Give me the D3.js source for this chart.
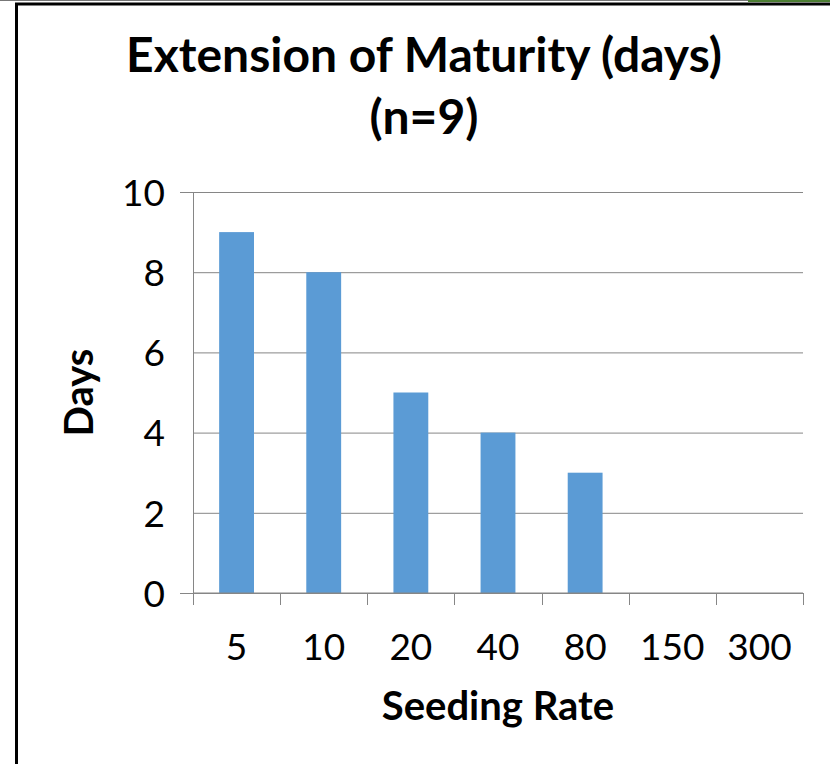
<!DOCTYPE html>
<meta charset="utf-8">
<script src="https://d3js.org/d3.v7.min.js"></script>
<style>
  body { margin: 0; background: #fff; }
  text { font-family: Lato, "Open Sans", sans-serif; fill: #000; }
</style>
<div id="chart"></div>
<script>

// chart data
const rates = ["5", "10", "20", "40", "80", "150", "300"]
const days = [9, 8, 5, 4, 3, 0, 0]
const yTicks = [0, 2, 4, 6, 8, 10]

const W = 830, H = 764
const margin = {top: 192, right: 27, bottom: 171, left: 193},
    width = W - margin.left - margin.right,
    height = H - margin.top - margin.bottom

const svg = d3.select("#chart").append("svg")
    .attr("width", W)
    .attr("height", H)

// frame bits from the screenshot edge
svg.append("line").attr("x1", 0).attr("x2", 748).attr("y1", 0.5).attr("y2", 0.5)
  .attr("stroke", "#777").attr("stroke-width", 1)
svg.append("rect").attr("x", 748).attr("y", 0).attr("width", 82).attr("height", 2)
  .attr("fill", "#4b7d32")
svg.append("path").attr("d", "M16.5," + H + "V4H" + W)
  .attr("fill", "none").attr("stroke", "#000").attr("stroke-width", 3)

// title
const title = svg.append("text")
    .attr("text-anchor", "middle")
    .style("font-weight", "bold")
    .style("font-size", "48px")
title.append("tspan").attr("x", 424).attr("y", 72).text("Extension of Maturity (days)")
title.append("tspan").attr("x", 424).attr("y", 134).text("(n=9)")

const g = svg.append("g")
    .attr("transform", "translate(" + margin.left + "," + margin.top + ")")

const x = d3.scaleBand()
    .domain(rates)
    .range([0, width])
    .paddingInner(0.6)
    .paddingOuter(0.3)

const y = d3.scaleLinear()
    .domain([0, 10])
    .range([height, 0])

// gridlines + y axis
const yAxis = g.append("g")
    .call(d3.axisLeft(y).tickValues(yTicks).tickSize(13).tickPadding(15))
yAxis.select(".domain").attr("stroke", "#868686")
yAxis.selectAll(".tick line")
    .attr("x2", width)
    .attr("stroke", "#868686")
yAxis.selectAll(".tick text")
    .style("font-size", "37px")
    .attr("dy", "0.36em")

// bars
g.selectAll(".bar")
  .data(rates.map((r, i) => ({rate: r, value: days[i]})))
  .join("rect")
    .attr("class", "bar")
    .attr("x", d => x(d.rate))
    .attr("width", x.bandwidth())
    .attr("y", d => y(d.value))
    .attr("height", d => y(0) - y(d.value))
    .attr("fill", "#5b9bd5")

// x axis: ticks at category boundaries, labels at centres
const xg = g.append("g").attr("transform", "translate(0," + height + ")")
xg.append("line").attr("x1", 0).attr("x2", width)
  .attr("stroke", "#868686")
const step = x.step()
xg.selectAll(".xtick")
  .data(d3.range(rates.length + 1))
  .join("line")
    .attr("class", "xtick")
    .attr("x1", i => Math.round(i * step) + 0.5)
    .attr("x2", i => Math.round(i * step) + 0.5)
    .attr("y1", 0)
    .attr("y2", 12)
    .attr("stroke", "#868686")
xg.selectAll(".xlabel")
  .data(rates)
  .join("text")
    .attr("class", "xlabel")
    .attr("x", d => x(d) + x.bandwidth() / 2)
    .attr("y", 67)
    .attr("text-anchor", "middle")
    .style("font-size", "37px")
    .text(d => d)

// axis titles
svg.append("text")
    .attr("x", margin.left + width / 2)
    .attr("y", 720)
    .attr("text-anchor", "middle")
    .style("font-weight", "bold")
    .style("font-size", "40px")
    .text("Seeding Rate")

svg.append("text")
    .attr("transform", "translate(93," + (margin.top + height / 2) + ")rotate(-90)")
    .attr("text-anchor", "middle")
    .style("font-weight", "bold")
    .style("font-size", "40px")
    .text("Days")

</script>
